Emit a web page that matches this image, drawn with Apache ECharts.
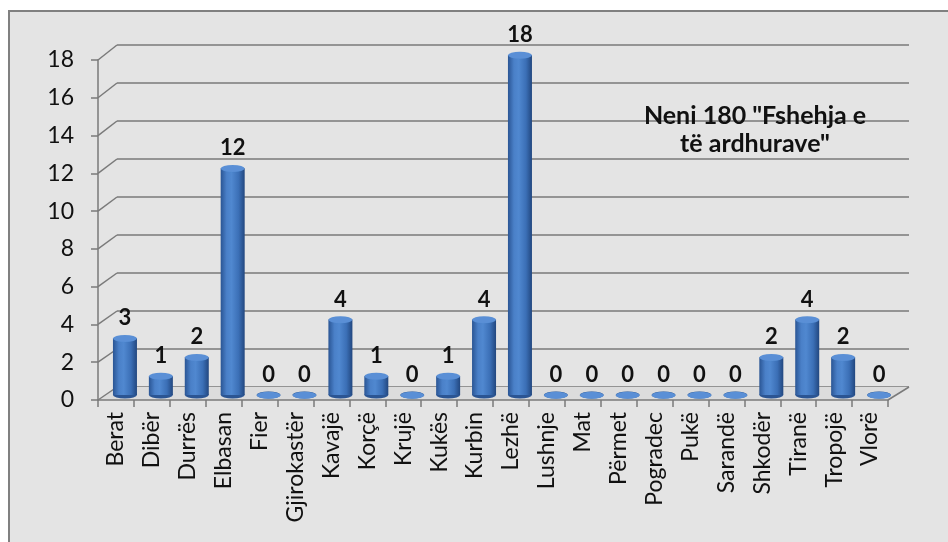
<!DOCTYPE html>
<html><head><meta charset="utf-8">
<script src="https://cdn.jsdelivr.net/npm/echarts@6/dist/echarts.min.js"></script>
<style>html,body{margin:0;padding:0;background:#fff}#c{width:948px;height:542px}</style>
</head><body><div id="c"></div>
<script>
const categories = ['Berat','Dibër','Durrës','Elbasan','Fier','Gjirokastër','Kavajë','Korçë','Krujë','Kukës','Kurbin','Lezhë','Lushnje','Mat','Përmet','Pogradec','Pukë','Sarandë','Shkodër','Tiranë','Tropojë','Vlorë'];
const values = [3,1,2,12,0,0,4,1,0,1,4,18,0,0,0,0,0,0,2,4,2,0];
const yTicks = [0,2,4,6,8,10,12,14,16,18];
const titleText = 'Neni 180 "Fshehja e\ntë ardhurave"';

const FONT = 'Lato';
const lineCol = '#7a7a7a';
const chart = echarts.init(document.getElementById('c'), null, {renderer:'canvas'});
const yMin = yTicks[0], yMax = yTicks[yTicks.length-1], yStep = yTicks[1]-yTicks[0];

const barGrad = new echarts.graphic.LinearGradient(0,0,1,0,[
  {offset:0,color:'#2a5594'},{offset:0.25,color:'#4a80c8'},{offset:0.45,color:'#5088d0'},
  {offset:0.75,color:'#3b6fb6'},{offset:1,color:'#22477f'}]);

chart.setOption({
  backgroundColor:'#ffffff',
  animation:false,
  title:{text:titleText,left:750,top:97,textAlign:'center',
    textStyle:{fontFamily:FONT,fontWeight:'bold',fontSize:25,lineHeight:28,color:'#111'}},
  grid:[
    {left:98,right:60,top:60,bottom:142},
    {left:117,right:39,top:45,bottom:155},
    {left:107,right:51,top:55,bottom:147}
  ],
  xAxis:[
    {type:'category',gridIndex:0,data:categories,boundaryGap:true,
     axisLine:{lineStyle:{color:lineCol,width:1.5}},
     axisTick:{show:true,length:7,alignWithLabel:false,lineStyle:{color:lineCol,width:1.5}},
     axisLabel:{rotate:90,interval:0,margin:12,fontFamily:FONT,fontSize:23,color:'#111'}},
    {type:'category',gridIndex:1,data:categories,show:false},
    {type:'category',gridIndex:2,data:categories,show:false}
  ],
  yAxis:[
    {type:'value',gridIndex:0,min:yMin,max:yMax,interval:yStep,
     axisLine:{show:true,lineStyle:{color:lineCol,width:1.5}},
     axisTick:{show:true,length:7,lineStyle:{color:lineCol,width:1.5}},
     splitLine:{show:false},
     axisLabel:{margin:24,fontFamily:FONT,fontSize:23,color:'#111'}},
    {type:'value',gridIndex:1,min:yMin,max:yMax,interval:yStep,
     axisLine:{show:false},axisTick:{show:false},axisLabel:{show:false},
     splitLine:{show:true,lineStyle:{color:lineCol,width:1.5}}},
    {type:'value',gridIndex:2,min:yMin,max:yMax,interval:yStep,show:false,splitLine:{show:false}}
  ],
  series:[
    {type:'bar',xAxisIndex:2,yAxisIndex:2,data:values,barWidth:24,barGap:'-100%',z:3,
     itemStyle:{color:barGrad},
     label:{show:true,position:'top',distance:9,fontFamily:FONT,fontWeight:'bold',fontSize:22,color:'#111'}},
    {type:'pictorialBar',xAxisIndex:2,yAxisIndex:2,data:values,symbol:'circle',symbolSize:[24,7],
     symbolPosition:'start',symbolOffset:[0,'50%'],barGap:'-100%',z:2,
     itemStyle:{color:'#2b5593'}},
    {type:'pictorialBar',xAxisIndex:2,yAxisIndex:2,data:values,symbol:'circle',symbolSize:[24,7],
     symbolPosition:'end',symbolOffset:[0,'-50%'],barGap:'-100%',z:4,
     itemStyle:{color:'#5a8fd6',borderColor:'#3a6cb0',borderWidth:0.8}}
  ]
});

const g = [];
g.push({type:'rect',z:-10,silent:true,shape:{x:9,y:11,width:960,height:560},
  style:{fill:'#e4e4e4',stroke:'#808080',lineWidth:2}});
const rf = chart.getModel().getComponent('grid',0).coordinateSystem.getRect();
const rb = chart.getModel().getComponent('grid',1).coordinateSystem.getRect();
yTicks.forEach(v=>{
  const pf = chart.convertToPixel({xAxisIndex:0,yAxisIndex:0},[0,v]);
  const pb = chart.convertToPixel({xAxisIndex:1,yAxisIndex:1},[0,v]);
  g.push({type:'line',z:1,silent:true,shape:{x1:rf.x,y1:pf[1],x2:rb.x,y2:pb[1]},
    style:{stroke:lineCol,lineWidth:1.5}});
});
g.push({type:'polygon',z:0,silent:true,shape:{points:[[rf.x,rf.y+rf.height],[rf.x+rf.width,rf.y+rf.height],
  [rb.x+rb.width,rb.y+rb.height],[rb.x,rb.y+rb.height]]},style:{fill:'#dcdcdc'}});
g.push({type:'line',z:1,silent:true,shape:{x1:rf.x+rf.width,y1:rf.y+rf.height,x2:rb.x+rb.width,y2:rb.y+rb.height},
  style:{stroke:lineCol,lineWidth:1.5}});
chart.setOption({graphic:g});
</script></body></html>
